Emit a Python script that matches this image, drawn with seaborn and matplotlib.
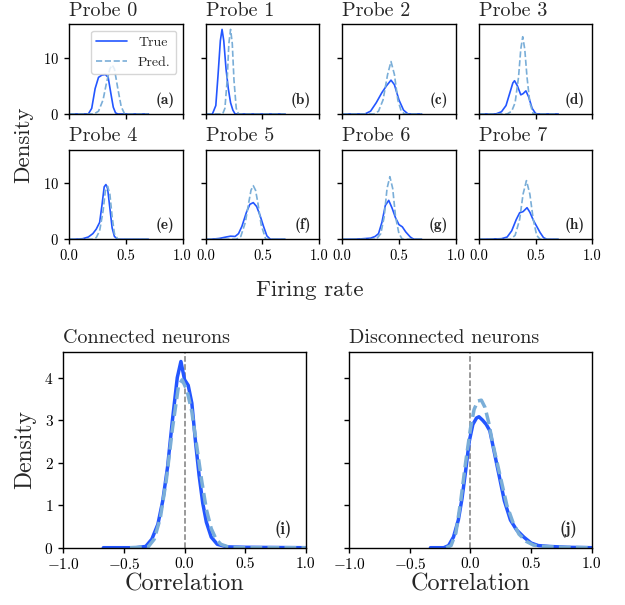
import matplotlib
matplotlib.use("Agg")
import matplotlib.pyplot as plt
import seaborn as sns
import numpy as np

# ---------------- data ----------------
probe_titles = ["Probe 0", "Probe 1", "Probe 2", "Probe 3",
                "Probe 4", "Probe 5", "Probe 6", "Probe 7"]
probe_tags = ["(a)", "(b)", "(c)", "(d)", "(e)", "(f)", "(g)", "(h)"]

# Firing-rate densities, True (solid) and Pred. (dashed)
p0_true_x = [0, 0.17, 0.2, 0.23, 0.26, 0.29, 0.32, 0.345, 0.37, 0.39, 0.41, 0.43, 0.7]
p0_true_y = [0, 0, 1.0, 4.5, 6.5, 6.9, 7.0, 6.5, 3.5, 1.2, 0.2, 0, 0]
p0_pred_x = [0, 0.22, 0.26, 0.3, 0.33, 0.36, 0.38, 0.40, 0.43, 0.46, 0.49, 0.7]
p0_pred_y = [0, 0, 0.5, 2.5, 5.5, 8.0, 8.7, 8.0, 4.5, 1.3, 0, 0]

p1_true_x = [0, 0.06, 0.09, 0.11, 0.13, 0.145, 0.16, 0.18, 0.20, 0.22, 0.24, 0.26, 0.7]
p1_true_y = [0, 0, 1.5, 7.0, 13.0, 15.0, 13.0, 8.0, 4.5, 2.0, 0.7, 0, 0]
p1_pred_x = [0, 0.15, 0.17, 0.19, 0.205, 0.22, 0.235, 0.25, 0.27, 0.29, 0.7]
p1_pred_y = [0, 0, 1.0, 6.0, 12.5, 15.0, 12.5, 6.0, 1.0, 0, 0]

p2_true_x = [0, 0.2, 0.25, 0.3, 0.35, 0.39, 0.43, 0.46, 0.5, 0.54, 0.58, 0.7]
p2_true_y = [0, 0, 0.5, 2.0, 3.8, 5.0, 6.0, 5.2, 2.5, 0.7, 0, 0]
p2_pred_x = [0, 0.28, 0.32, 0.36, 0.4, 0.43, 0.46, 0.49, 0.52, 0.55, 0.7]
p2_pred_y = [0, 0, 0.5, 2.5, 7.0, 9.3, 7.0, 2.5, 0.5, 0, 0]

p3_true_x = [0, 0.15, 0.2, 0.24, 0.27, 0.3, 0.315, 0.34, 0.37, 0.39, 0.415, 0.44, 0.47, 0.5, 0.52, 0.7]
p3_true_y = [0, 0, 0.4, 1.5, 3.5, 5.5, 5.9, 5.0, 3.4, 3.6, 4.1, 3.0, 1.0, 0.1, 0, 0]
p3_pred_x = [0, 0.25, 0.29, 0.32, 0.35, 0.37, 0.387, 0.405, 0.425, 0.45, 0.48, 0.7]
p3_pred_y = [0, 0, 0.5, 2.0, 6.5, 11.5, 13.7, 11.5, 6.5, 2.0, 0, 0]

p4_true_x = [0, 0.05, 0.12, 0.17, 0.21, 0.24, 0.27, 0.29, 0.31, 0.325, 0.34, 0.36, 0.38, 0.40, 0.43, 0.7]
p4_true_y = [0, 0, 0.1, 0.4, 1.0, 1.8, 3.0, 6.0, 9.3, 9.7, 9.0, 5.5, 2.0, 0.5, 0, 0]
p4_pred_x = [0, 0.2, 0.24, 0.27, 0.3, 0.32, 0.34, 0.36, 0.38, 0.40, 0.43, 0.7]
p4_pred_y = [0, 0, 0.3, 1.5, 5.0, 8.5, 9.4, 8.0, 4.0, 1.0, 0, 0]

p5_true_x = [0, 0.05, 0.12, 0.18, 0.22, 0.26, 0.29, 0.32, 0.36, 0.39, 0.42, 0.45, 0.48, 0.51, 0.54, 0.57, 0.7]
p5_true_y = [0, 0, 0.15, 0.4, 0.55, 0.5, 1.0, 2.3, 4.8, 6.2, 6.5, 5.8, 4.2, 2.3, 0.6, 0, 0]
p5_pred_x = [0, 0.27, 0.31, 0.35, 0.38, 0.40, 0.42, 0.44, 0.46, 0.49, 0.53, 0.7]
p5_pred_y = [0, 0, 0.5, 3.0, 6.5, 8.7, 9.5, 8.7, 6.5, 2.5, 0, 0]

p6_true_x = [0, 0.05, 0.15, 0.25, 0.29, 0.32, 0.35, 0.38, 0.41, 0.44, 0.47, 0.5, 0.53, 0.56, 0.6, 0.63, 0.7]
p6_true_y = [0, 0, 0.05, 0.2, 0.5, 1.0, 3.0, 6.0, 6.9, 5.5, 3.8, 2.6, 2.2, 1.3, 0.4, 0, 0]
p6_pred_x = [0, 0.3, 0.34, 0.37, 0.395, 0.42, 0.445, 0.47, 0.5, 0.53, 0.7]
p6_pred_y = [0, 0, 1.0, 4.0, 9.0, 11.1, 9.0, 4.0, 1.0, 0, 0]

p7_true_x = [0, 0.05, 0.2, 0.25, 0.29, 0.33, 0.36, 0.39, 0.425, 0.45, 0.48, 0.51, 0.54, 0.57, 0.6, 0.7]
p7_true_y = [0, 0, 0.1, 0.4, 1.5, 3.5, 4.7, 4.9, 5.6, 4.8, 3.4, 2.3, 1.2, 0.3, 0, 0]
p7_pred_x = [0, 0.28, 0.32, 0.36, 0.39, 0.42, 0.45, 0.48, 0.51, 0.54, 0.7]
p7_pred_y = [0, 0, 0.7, 3.5, 8.0, 10.4, 8.0, 3.5, 0.7, 0, 0]

# Correlation densities
conn_true_x = [-0.67, -0.4, -0.32, -0.27, -0.22, -0.18, -0.14, -0.1, -0.06, -0.03, 0.0,
               0.03, 0.06, 0.09, 0.12, 0.15, 0.18, 0.22, 0.27, 0.35, 0.5, 1.0]
conn_true_y = [0, 0, 0.03, 0.2, 0.55, 1.1, 1.9, 3.0, 4.0, 4.38, 3.95,
               3.82, 3.4, 2.5, 1.7, 1.05, 0.6, 0.25, 0.08, 0.02, 0.01, 0]
conn_pred_x = [-0.45, -0.3, -0.25, -0.2, -0.15, -0.1, -0.05, -0.02, 0.02, 0.06, 0.1,
               0.14, 0.18, 0.22, 0.26, 0.3, 0.36, 0.45, 1.0]
conn_pred_y = [0, 0.02, 0.2, 0.7, 1.6, 2.8, 3.8, 3.95, 3.7, 3.2, 2.4,
               1.6, 0.9, 0.45, 0.2, 0.08, 0.02, 0, 0]

disc_true_x = [-0.33, -0.22, -0.18, -0.14, -0.1, -0.07, -0.04, -0.01, 0.02, 0.05, 0.07, 0.1,
               0.13, 0.16, 0.2, 0.24, 0.28, 0.33, 0.38, 0.44, 0.5, 0.56, 0.65, 0.8, 1.0]
disc_true_y = [0, 0, 0.05, 0.25, 0.65, 1.15, 1.8, 2.5, 2.9, 3.05, 3.08, 3.0,
               2.9, 2.75, 2.2, 1.65, 1.1, 0.65, 0.42, 0.25, 0.11, 0.05, 0.03, 0.01, 0]
disc_pred_x = [-0.2, -0.16, -0.12, -0.08, -0.04, 0.0, 0.03, 0.06, 0.09, 0.12, 0.15,
               0.18, 0.22, 0.26, 0.3, 0.35, 0.4, 0.46, 0.52, 0.6, 0.75, 1.0]
disc_pred_y = [0, 0.05, 0.35, 1.1, 2.0, 2.8, 3.25, 3.45, 3.47, 3.3, 2.95,
               2.5, 2.0, 1.5, 1.0, 0.6, 0.32, 0.15, 0.06, 0.03, 0.01, 0]

probe_true = [(p0_true_x, p0_true_y), (p1_true_x, p1_true_y), (p2_true_x, p2_true_y),
              (p3_true_x, p3_true_y), (p4_true_x, p4_true_y), (p5_true_x, p5_true_y),
              (p6_true_x, p6_true_y), (p7_true_x, p7_true_y)]
probe_pred = [(p0_pred_x, p0_pred_y), (p1_pred_x, p1_pred_y), (p2_pred_x, p2_pred_y),
              (p3_pred_x, p3_pred_y), (p4_pred_x, p4_pred_y), (p5_pred_x, p5_pred_y),
              (p6_pred_x, p6_pred_y), (p7_pred_x, p7_pred_y)]

corr_titles = ["Connected neurons", "Disconnected neurons"]
corr_tags = ["(i)", "(j)"]
corr_true = [(conn_true_x, conn_true_y), (disc_true_x, disc_true_y)]
corr_pred = [(conn_pred_x, conn_pred_y), (disc_pred_x, disc_pred_y)]

probe_xticks = [0.0, 0.5, 1.0]
probe_yticks = [0, 10]
corr_xticks = [-1.0, -0.5, 0.0, 0.5, 1.0]
corr_yticks = [0, 1, 2, 3, 4]

# ---------------- style ----------------
sns.set_theme(style="ticks")
plt.rcParams["font.family"] = ["cmr10", "DejaVu Serif"]
plt.rcParams["mathtext.fontset"] = "cm"
plt.rcParams["axes.formatter.use_mathtext"] = True
plt.rcParams["axes.edgecolor"] = "black"
plt.rcParams["xtick.color"] = "black"
plt.rcParams["ytick.color"] = "black"
plt.rcParams["axes.linewidth"] = 1.0

C_TRUE = "#2356ff"
C_PRED = "#7aaed8"
BOLD = ["cmb10", "DejaVu Serif"]

fig = plt.figure(figsize=(6.25, 6.05), dpi=100)
gs_top = fig.add_gridspec(2, 4, left=0.1104, right=0.9477, top=0.9598, bottom=0.6045,
                          wspace=0.203, hspace=0.397)
gs_bot = fig.add_gridspec(1, 2, left=0.1013, right=0.9467, top=0.4187, bottom=0.0947,
                          wspace=0.179)

for i in range(8):
    r, c = divmod(i, 4)
    ax = fig.add_subplot(gs_top[r, c])
    tx, ty = probe_true[i]
    px, py = probe_pred[i]
    sns.lineplot(x=tx, y=ty, ax=ax, color=C_TRUE, lw=1.2, label="True" if i == 0 else None,
                 sort=False, estimator=None)
    sns.lineplot(x=px, y=py, ax=ax, color=C_PRED, lw=1.2, linestyle="--",
                 label="Pred." if i == 0 else None, sort=False, estimator=None)
    ax.set_xlim(0, 1)
    ax.set_ylim(0, 15.9)
    ax.set_xticks(probe_xticks)
    ax.set_yticks(probe_yticks)
    ax.set_xlabel("")
    ax.set_ylabel("")
    ax.tick_params(labelsize=10.5, length=3.5, width=1.0)
    if r == 0:
        ax.tick_params(labelbottom=False)
    else:
        ax.set_xticklabels(["0.0", "0.5", "1.0"])
    if c != 0:
        ax.tick_params(labelleft=False)
    ax.set_title(probe_titles[i], loc="left", fontsize=14.5, pad=6)
    ax.text(0.93, 0.07, probe_tags[i], transform=ax.transAxes,
            ha="right", va="bottom", fontsize=11, family=BOLD)
    if i == 0:
        ax.legend(loc="upper right", fontsize=10, handlelength=2.2, frameon=True,
                  borderaxespad=0.45)
    else:
        leg = ax.get_legend()
        if leg:
            leg.remove()

fig.text(0.038, 0.760, "Density", rotation=90, ha="center", va="center", fontsize=16.5)
fig.text(0.495, 0.5107, "Firing rate", ha="center", va="baseline", fontsize=16.5)

for j in range(2):
    ax = fig.add_subplot(gs_bot[0, j])
    tx, ty = corr_true[j]
    px, py = corr_pred[j]
    ax.axvline(0, color="#7f7f7f", lw=1.1, linestyle="--", zorder=1)
    sns.lineplot(x=tx, y=ty, ax=ax, color=C_TRUE, lw=2.5, sort=False, estimator=None)
    sns.lineplot(x=px, y=py, ax=ax, color=C_PRED, lw=2.5, linestyle="--",
                 sort=False, estimator=None)
    ax.lines[-1].set_dashes((3.4, 1.5))
    ax.set_xlim(-1, 1)
    ax.set_ylim(0, 4.61)
    ax.set_xticks(corr_xticks)
    ax.set_xticklabels(["$-1.0$", "$-0.5$", "0.0", "0.5", "1.0"])
    ax.set_yticks(corr_yticks)
    ax.tick_params(labelsize=11, length=3.5, width=1.0)
    ax.set_xlabel("Correlation", fontsize=17.5, labelpad=1)
    if j == 0:
        ax.set_ylabel("Density", fontsize=17, labelpad=6)
    else:
        ax.set_ylabel("")
        ax.tick_params(labelleft=False)
    ax.set_title(corr_titles[j], loc="left", fontsize=14.5, pad=6)
    ax.text(0.942, 0.048, corr_tags[j], transform=ax.transAxes,
            ha="right", va="bottom", fontsize=12, family=BOLD)

fig.savefig("out.png", dpi=100)
